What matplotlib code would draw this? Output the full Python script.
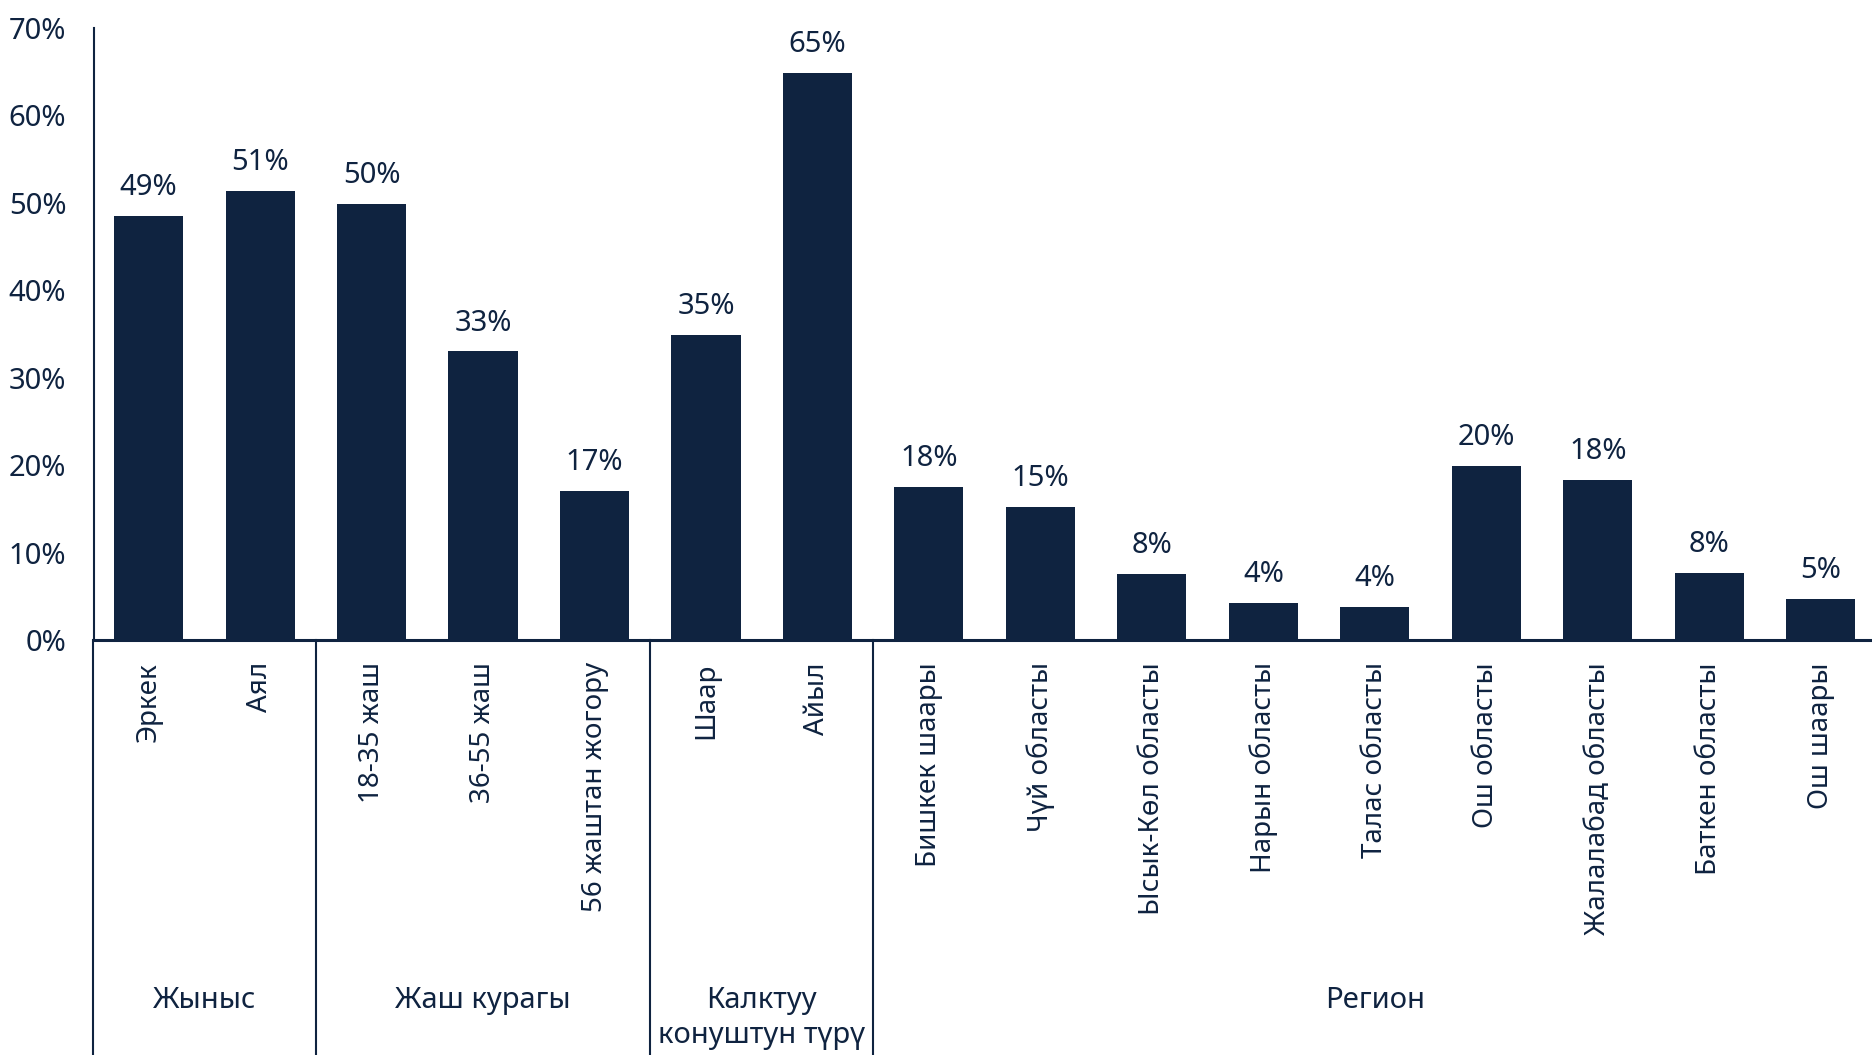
import matplotlib.pyplot as plt
from matplotlib.transforms import blended_transform_factory

categories = ['Эркек', 'Аял',
              '18-35 жаш', '36-55 жаш', '56 жаштан жогору',
              'Шаар', 'Айыл',
              'Бишкек шаары', 'Чүй областы', 'Ысык-Көл областы', 'Нарын областы',
              'Талас областы', 'Ош областы', 'Жалалабад областы', 'Баткен областы',
              'Ош шаары']
values = [48.5, 51.4, 49.9, 33.0, 17.0, 34.9, 64.9,
          17.5, 15.2, 7.6, 4.2, 3.8, 19.9, 18.3, 7.7, 4.7]
labels = ['49%', '51%', '50%', '33%', '17%', '35%', '65%',
          '18%', '15%', '8%', '4%', '4%', '20%', '18%', '8%', '5%']
groups = ['Жыныс', 'Жаш курагы', 'Калктуу\nконуштун түрү', 'Регион']
group_sizes = [2, 3, 2, 9]
yticks = [0, 10, 20, 30, 40, 50, 60, 70]

navy = '#0f2340'
plt.rcParams['font.family'] = ['Noto Sans', 'DejaVu Sans']
plt.rcParams['text.color'] = navy

fig = plt.figure(figsize=(18.72, 10.55), dpi=100)
ax = fig.add_axes([94 / 1872, 415 / 1055, 1 - 94 / 1872, 612 / 1055])

x = list(range(len(values)))
bars = ax.bar(x, values, width=0.62, color=navy)
ax.bar_label(bars, labels=labels, padding=10, fontsize=21, color=navy)

ax.set_xlim(-0.49, len(values) - 0.54)
ax.set_ylim(0, 70)
ax.set_yticks(yticks)
ax.set_yticklabels([f'{t}%' for t in yticks], fontsize=21, color=navy)
ax.set_xticks(x)
ax.set_xticklabels(categories, rotation=90, fontsize=20, color=navy, va='top')
ax.tick_params(axis='both', length=0)
ax.tick_params(axis='y', pad=20)
ax.tick_params(axis='x', pad=16)

for side in ['top', 'right']:
    ax.spines[side].set_visible(False)
ax.spines['left'].set_color(navy)
ax.spines['left'].set_linewidth(1.5)
ax.spines['bottom'].set_color(navy)
ax.spines['bottom'].set_linewidth(2.2)

# group separators and group names below the axis
trans = blended_transform_factory(ax.transData, fig.transFigure)
base = 415 / 1055
start = 0
edges = [-0.5]
for name, n in zip(groups, group_sizes):
    left = start - 0.5
    right = start + n - 0.5
    edges.append(right)
    ax.text((left + right) / 2, 1 - 986 / 1055, name, transform=trans,
            ha='center', va='top', fontsize=21, color=navy, linespacing=1.25)
    start += n
for e in edges[:-1]:
    ax.plot([e, e], [0, base], transform=trans, color=navy, lw=1.5, clip_on=False)

fig.savefig('out.png', dpi=100)
